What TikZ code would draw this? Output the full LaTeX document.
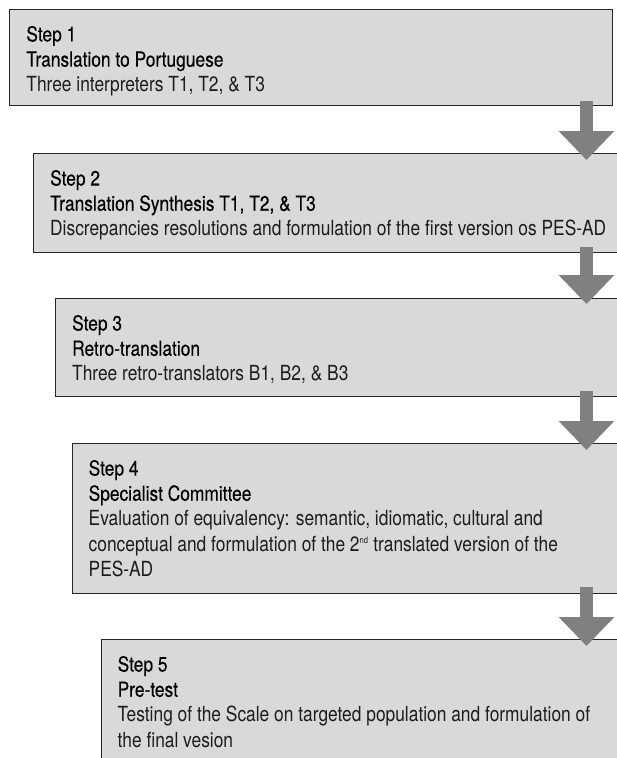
\documentclass[tikz,border=0pt]{standalone}
\usepackage{fontspec}
\setmainfont{TeX Gyre Heros}[FakeStretch=0.835]
\newfontfamily\stepmed{TeX Gyre Heros}[FakeStretch=0.835,FakeBold=0.2]
\usetikzlibrary{arrows.meta}
\definecolor{boxfill}{HTML}{D9D9D9}
\definecolor{arrowgray}{HTML}{808080}
\definecolor{boxline}{HTML}{262626}
\definecolor{descgray}{HTML}{1C1C1C}
\begin{document}
\begin{tikzpicture}[x=1pt,y=-1pt,
  stepbox/.style={draw=boxline, fill=boxfill, line width=0.9pt, rectangle, anchor=north west, inner sep=0pt},
  steptext/.style={anchor=north west, inner sep=0pt, align=left, font=\fontsize{20.8}{25.2}\selectfont, text=black},
  flowarrow/.style={draw=arrowgray, line width=13pt, -{Triangle[width=54pt,length=29pt]}}
]
\clip (0,0) rectangle (617,758);
\fill[white] (0,0) rectangle (617,758);

\node[stepbox, minimum width=603pt, minimum height=96pt] (b1) at (8.7,8.7) {};
\node[stepbox, minimum width=607pt, minimum height=99pt] (b2) at (33,153) {};
\node[stepbox, minimum width=585pt, minimum height=98pt] (b3) at (55,298) {};
\node[stepbox, minimum width=568pt, minimum height=150pt] (b4) at (72,443) {};
\node[stepbox, minimum width=539pt, minimum height=140pt] (b5) at (101,639) {};

\node[steptext] (t1) at ([xshift=17.5pt,yshift=-17pt]b1.north west)
  {{\stepmed Step 1}\\{\stepmed Translation to Portuguese}\\{\color{descgray}Three interpreters T1, T2, \& T3}};
\node[steptext] (t2) at ([xshift=17pt,yshift=-16.8pt]b2.north west)
  {{\stepmed Step 2}\\{\stepmed Translation Synthesis T1, T2, \& T3}\\{\color{descgray}Discrepancies resolutions and formulation of the first version os PES-AD}};
\node[steptext] (t3) at ([xshift=17pt,yshift=-16.8pt]b3.north west)
  {{\stepmed Step 3}\\{\stepmed Retro-translation}\\{\color{descgray}Three retro-translators B1, B2, \& B3}};
\node[steptext] (t4) at ([xshift=16.5pt,yshift=-16.8pt]b4.north west)
  {{\stepmed Step 4}\\{\stepmed Specialist Committee}\\{\color{descgray}Evaluation of equivalency: semantic, idiomatic, cultural and}\\{\color{descgray}conceptual and formulation of the 2\textsuperscript{\fontsize{9}{9}\selectfont nd} translated version of the}\\{\color{descgray}PES-AD}};
\node[steptext] (t5) at ([xshift=16.5pt,yshift=-16.8pt]b5.north west)
  {{\stepmed Step 5}\\{\stepmed Pre-test}\\{\color{descgray}Testing of the Scale on targeted population and formulation of}\\{\color{descgray}the final vesion}};

\coordinate (ax) at (586.5,0);
\draw[flowarrow] ([yshift=5pt]b1.south -| ax) -- ([yshift=-7pt]b2.north -| ax);
\draw[flowarrow] ([yshift=6pt]b2.south -| ax) -- ([yshift=-6pt]b3.north -| ax);
\draw[flowarrow] ([yshift=6pt]b3.south -| ax) -- ([yshift=-7pt]b4.north -| ax);
\draw[flowarrow] ([yshift=7pt]b4.south -| ax) -- ([yshift=-7pt]b5.north -| ax);
\end{tikzpicture}
\end{document}
